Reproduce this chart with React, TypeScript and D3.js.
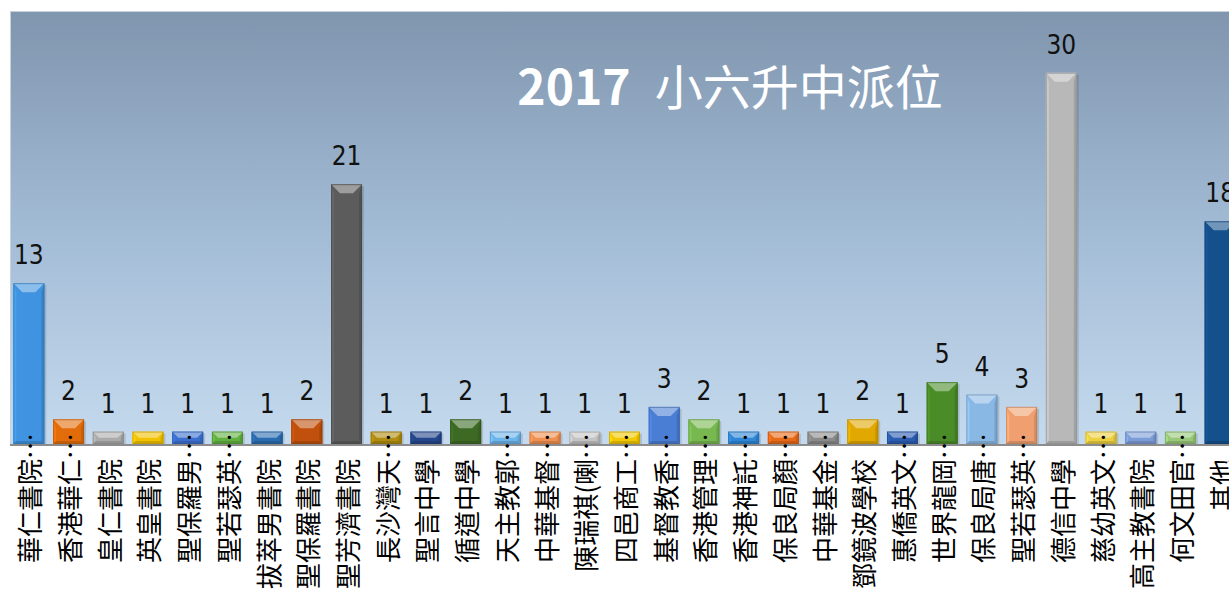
import * as d3 from "d3";

const schools = [
  "華仁書院", "香港華仁", "皇仁書院", "英皇書院", "聖保羅男", "聖若瑟英", "拔萃男書院", "聖保羅書院",
  "聖芳濟書院", "長沙灣天", "聖言中學", "循道中學", "天主教郭", "中華基督", "陳瑞祺(喇", "四邑商工",
  "基督教香", "香港管理", "香港神託", "保良局顏", "中華基金", "鄧鏡波學校", "惠僑英文", "世界龍岡",
  "保良局唐", "聖若瑟英", "德信中學", "慈幼英文", "高主教書院", "何文田官", "其他",
];
// true where the name was cut short and shown with an ellipsis
const truncated = [
  true, true, false, false, true, true, false, false,
  false, true, false, false, true, true, true, true,
  true, true, true, true, true, false, true, true,
  true, true, false, true, false, true, false,
];
const students = [13, 2, 1, 1, 1, 1, 1, 2, 21, 1, 1, 2, 1, 1, 1, 1, 3, 2, 1, 1, 1, 2, 1, 5, 4, 3, 30, 1, 1, 1, 18];
const barColors = [
  "#3f93e0", "#e36c0a", "#ababab", "#f2c200", "#3b6fcf", "#62b040", "#2a6cb0", "#c0500c",
  "#5c5c5c", "#b08c10", "#24468c", "#3c6a24", "#6cb4ea", "#f09050", "#c4c4c4", "#f2c800",
  "#4a7ed4", "#78b850", "#2e86d6", "#e86a18", "#8a8a8a", "#e0a800", "#2a5cb0", "#4a8c28",
  "#8ab8e4", "#f0a070", "#b8b8b8", "#ecd040", "#7c9cd8", "#98c878", "#14508c",
];

const W = 1229;
const H = 589;
const plot = { left: 10, top: 11, right: 1240, bottom: 444 };

export default function App() {
  const x = d3
    .scaleBand<string>()
    .domain(schools.map((s, i) => `${i}`))
    .range([9, 9 + 31 * 39.71])
    .paddingInner(0.22)
    .paddingOuter(0.11);
  const y = d3.scaleLinear().domain([0, 35]).range([plot.bottom, plot.top]);
  const bw = x.bandwidth();
  const labelTop = 459;

  return (
    <svg
      width={W}
      height={H}
      style={{ position: "absolute", left: 0, top: 0, background: "#fff" }}
      fontFamily="'Noto Sans CJK TC', 'Noto Sans', sans-serif"
    >
      <defs>
        <linearGradient id="bg" x1="0" y1="0" x2="0" y2="1">
          <stop offset="0%" stopColor="#8095ae" />
          <stop offset="50%" stopColor="#a2bbd5" />
          <stop offset="100%" stopColor="#c5daee" />
        </linearGradient>
      </defs>

      <rect
        x={plot.left}
        y={plot.top}
        width={plot.right - plot.left}
        height={plot.bottom - plot.top}
        fill="url(#bg)"
      />
      <line x1={plot.left} x2={plot.right} y1={plot.top + 0.5} y2={plot.top + 0.5} stroke="#c9d1da" />
      <line x1={plot.left + 0.5} x2={plot.left + 0.5} y1={plot.top} y2={plot.bottom} stroke="#c9d1da" />

      <text x={730} y={105} textAnchor="middle" fill="#fff" fontSize={48}>
        <tspan fontWeight={700}>2017</tspan>
        <tspan dx={24} fontWeight={400}>小六升中派位</tspan>
      </text>

      {students.map((v, i) => {
        const bx = x(`${i}`) ?? 0;
        const by = y(v);
        const h = plot.bottom - by;
        const base = d3.color(barColors[i])!;
        const top = d3.interpolateRgb(barColors[i], "#ffffff")(0.4);
        const left = base.brighter(0.25).formatHex();
        const right = base.darker(0.35).formatHex();
        const bottom = base.darker(0.45).formatHex();
        const edge = base.darker(0.8).formatHex();
        const bt = Math.min(9, h / 2);
        const bs = Math.min(3, bw / 2);
        const bb = Math.min(3, h / 2);
        return (
          <g key={`bar-${i}`}>
            <rect x={bx + 2} y={by + 2} width={bw} height={h - 2} fill="#000" opacity={0.12} />
            <rect x={bx} y={by} width={bw} height={h} fill={barColors[i]} />
            <polygon
              points={`${bx},${by + h} ${bx + bs},${by + h - bb} ${bx + bs},${by + bt} ${bx},${by}`}
              fill={left}
            />
            <polygon
              points={`${bx + bw},${by + h} ${bx + bw - bs},${by + h - bb} ${bx + bw - bs},${by + bt} ${bx + bw},${by}`}
              fill={right}
            />
            <polygon
              points={`${bx},${by + h} ${bx + bw},${by + h} ${bx + bw - bs},${by + h - bb} ${bx + bs},${by + h - bb}`}
              fill={bottom}
            />
            <polygon
              points={`${bx},${by} ${bx + bw},${by} ${bx + bw - bt},${by + bt} ${bx + bt},${by + bt}`}
              fill={top}
            />
            <rect x={bx + 0.5} y={by + 0.5} width={bw - 1} height={h - 1} fill="none" stroke={edge} strokeOpacity={0.6} />
            <text
              x={bx + bw / 2}
              y={by - 19}
              textAnchor="middle"
              fontSize={26}
              fontFamily="'DejaVu Sans Condensed', 'Liberation Sans', sans-serif"
              fill="#111"
            >
              {v}
            </text>
          </g>
        );
      })}

      <line x1={plot.left} x2={plot.right} y1={plot.bottom + 1} y2={plot.bottom + 1} stroke="#8c8c8c" strokeWidth={2} />

      {schools.map((s, i) => {
        const cx = (x(`${i}`) ?? 0) + bw / 2;
        return (
          <g key={`lab-${i}`} transform={`translate(${cx}, ${labelTop}) rotate(-90)`}>
            <text x={0} y={0} textAnchor="end" dominantBaseline="central" fontSize={26} fill="#000">
              {s}
            </text>
            {truncated[i] && (
              <text x={0} y={0} textAnchor="start" dominantBaseline="central" fontSize={26} fill="#000">
                …
              </text>
            )}
          </g>
        );
      })}
    </svg>
  );
}
